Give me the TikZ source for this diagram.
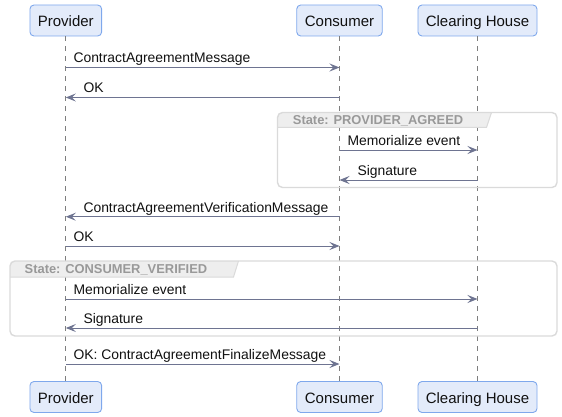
\documentclass[tikz,border=0pt]{standalone}
\usepackage{fontspec}
\setmainfont{Liberation Sans}
\usetikzlibrary{arrows.meta}
\definecolor{boxfill}{HTML}{E3EBFA}
\definecolor{boxline}{HTML}{7FA8EC}
\definecolor{arrowc}{HTML}{6E7491}
\definecolor{lifec}{HTML}{7E7E7E}
\definecolor{grpline}{HTML}{DADADA}
\definecolor{tabfill}{HTML}{EEEEEE}
\definecolor{grptext}{HTML}{999999}
\definecolor{txt}{HTML}{111111}
\tikzset{
  part/.style={draw=boxline, fill=boxfill, line width=0.9pt, rounded corners=4pt,
    minimum height=31pt, inner xsep=0pt, inner ysep=0pt, text height=15pt, text depth=2.6pt,
    font=\fontsize{15}{18}\selectfont, text=txt},
  life/.style={draw=lifec, line width=0.8pt, dash pattern=on 5pt off 5pt},
  msg/.style={draw=arrowc, line width=1pt, -{Stealth[length=10pt,width=8pt,inset=4pt]}},
  lbl/.style={anchor=base west, inner sep=0pt, font=\fontsize{13.9}{16}\selectfont, text=txt},
  grp/.style={draw=grpline, line width=1.4pt, rounded corners=5pt},
  grphead/.style={anchor=base west, inner sep=0pt, font=\bfseries\fontsize{12.9}{15}\selectfont, text=grptext}
}
\begin{document}
\begin{tikzpicture}[x=1pt,y=-1pt]
\useasboundingbox (0,0) rectangle (562,417);

% participants
\node[part, minimum width=71.7pt] (pT) at (65.8,20.5) {Provider};
\node[part, minimum width=85.5pt] (cT) at (339.5,20.5) {Consumer};
\node[part, minimum width=119pt] (hT) at (477.5,20.5) {Clearing House};
\node[part, minimum width=71.7pt] (pB) at (65.8,397) {Provider};
\node[part, minimum width=85.5pt] (cB) at (339.5,397) {Consumer};
\node[part, minimum width=119pt] (hB) at (477.5,397) {Clearing House};

\draw[life] (pT) -- (pB);
\draw[life] (cT) -- (cB);
\draw[life] (hT) -- (hB);

% groups
\begin{scope}
  \clip[rounded corners=5pt] (277.5,112.5) rectangle (557,187.5);
  \fill[tabfill] (277.5,112.5) -- (491.5,112.5) -- (486.5,127.5) -- (277.5,127.5) -- cycle;
\end{scope}
\draw[draw=grpline, line width=1pt] (491.5,112.5) -- (486.5,127.5) -- (277.5,127.5);
\draw[grp] (277.5,112.5) rectangle (557,187.5);
\node[grphead] (g1) at (292.7,124.3) {State: PROVIDER\_AGREED};

\begin{scope}
  \clip[rounded corners=5pt] (10,261) rectangle (557,336);
  \fill[tabfill] (10,261) -- (238.5,261) -- (233.5,277) -- (10,277) -- cycle;
\end{scope}
\draw[draw=grpline, line width=1pt] (238.5,261) -- (233.5,277) -- (10,277);
\draw[grp] (10,261) rectangle (557,336);
\node[grphead] (g2) at (24.5,273) {State: CONSUMER\_VERIFIED};

% messages
\draw[msg] (pT |- 0,67.5) -- (cT |- 0,67.5);
\node[lbl] (m1) at (73.3,62.8) {ContractAgreementMessage};

\draw[msg] (cT |- 0,97.5) -- (pT |- 0,97.5);
\node[lbl] (m2) at (83.3,92.8) {OK};

\draw[msg] (cT |- 0,150) -- (hT |- 0,150);
\node[lbl] (m3) at (347.3,145.3) {Memorialize event};

\draw[msg] (hT |- 0,180) -- (cT |- 0,180);
\node[lbl] (m4) at (357.3,175.3) {Signature};

\draw[msg] (cT |- 0,216.7) -- (pT |- 0,216.7);
\node[lbl] (m5) at (83.3,212) {ContractAgreementVerificationMessage};

\draw[msg] (pT |- 0,246) -- (cT |- 0,246);
\node[lbl] (m6) at (73.3,241.3) {OK};

\draw[msg] (pT |- 0,299) -- (hT |- 0,299);
\node[lbl] (m7) at (73.3,294.3) {Memorialize event};

\draw[msg] (hT |- 0,328) -- (pT |- 0,328);
\node[lbl] (m8) at (83.3,323.3) {Signature};

\draw[msg] (pT |- 0,364) -- (cT |- 0,364);
\node[lbl] (m9) at (73.3,359.3) {OK: ContractAgreementFinalizeMessage};
\end{tikzpicture}
\end{document}
